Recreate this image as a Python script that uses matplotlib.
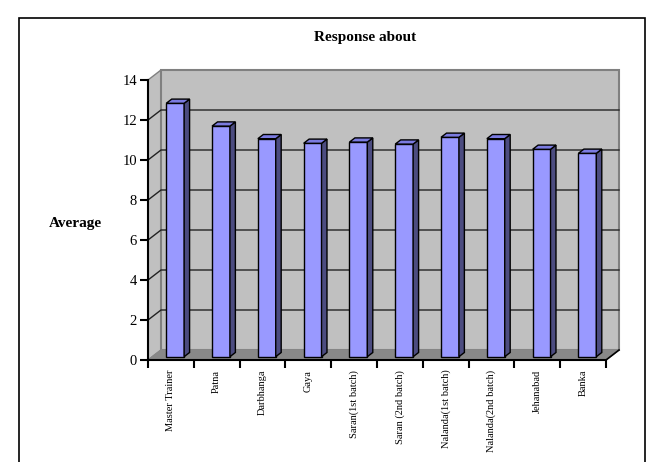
import matplotlib
matplotlib.use("Agg")
import matplotlib.pyplot as plt
from matplotlib.patches import Polygon, Rectangle

plt.rcParams['font.family'] = ['Liberation Serif', 'DejaVu Serif']

categories = ["Master Trainer", "Patna", "Darbhanga", "Gaya", "Saran(1st batch)",
              "Saran (2nd batch)", "Nalanda(1st batch)", "Nalanda(2nd batch)",
              "Jehanabad", "Banka"]
values = [12.67, 11.53, 10.9, 10.67, 10.73, 10.63, 10.97, 10.9, 10.37, 10.17]
yticks = [0, 2, 4, 6, 8, 10, 12, 14]

# fake 3d: depth offset in data units
DX, DY = 0.284, 0.5
d0, d1 = 0.33, 0.75
w = 0.39
n = len(categories)
ymax = 14

W, H = 662, 462
fig = plt.figure(figsize=(W / 100, H / 100), dpi=100)

# axes in pixel extents: front plane x 148..620, y 360..66
px_cat = 45.8
px_val = 20.0
xl, xr = -0.5, n - 0.5 + DX + 0.05
yb, yt = 0, ymax + DY + 0.2
left = 148
right = left + (xr - xl) * px_cat
bottom = 360
top = bottom - (yt - yb) * px_val
ax = fig.add_axes([left / W, 1 - bottom / H, (right - left) / W, (bottom - top) / H])
ax.set_xlim(xl, xr)
ax.set_ylim(yb, yt)
ax.patch.set_alpha(0)

wall = '#c0c0c0'
edge = '#808080'
# left wall
ax.add_patch(Polygon([(-0.5, 0), (-0.5 + DX, DY), (-0.5 + DX, ymax + DY), (-0.5, ymax)],
                     closed=True, facecolor=wall, edgecolor=edge, lw=1, zorder=0))
# back wall
ax.add_patch(Polygon([(-0.5 + DX, DY), (n - 0.5 + DX, DY), (n - 0.5 + DX, ymax + DY), (-0.5 + DX, ymax + DY)],
                     closed=True, facecolor=wall, edgecolor=edge, lw=1.5, zorder=0))
# floor
ax.add_patch(Polygon([(-0.5, 0), (n - 0.5, 0), (n - 0.5 + DX, DY), (-0.5 + DX, DY)],
                     closed=True, facecolor='#888888', edgecolor='#888888', lw=1, zorder=1))
# gridlines
for v in yticks[1:-1]:
    ax.plot([-0.5, -0.5 + DX, n - 0.5 + DX], [v, v + DY, v + DY], color='#222222', lw=1, zorder=1)
ax.plot([n - 0.5, n - 0.5 + DX], [0, DY], color='black', lw=1.2, zorder=2, clip_on=False)

# bars
xs = [i + d0 * DX for i in range(n)]
ax.bar(xs, values, width=w, bottom=d0 * DY, color='#9999ff', edgecolor='black', lw=1, zorder=3)
dd = d1 - d0
for x, v in zip(xs, values):
    x0 = x - w / 2
    y0 = d0 * DY
    ax.add_patch(Polygon([(x0 + w, y0), (x0 + w + dd * DX, y0 + dd * DY),
                          (x0 + w + dd * DX, y0 + v + dd * DY), (x0 + w, y0 + v)],
                         closed=True, facecolor='#4c4c80', edgecolor='black', lw=1, zorder=3))
    ax.add_patch(Polygon([(x0, y0 + v), (x0 + w, y0 + v), (x0 + w + dd * DX, y0 + v + dd * DY),
                          (x0 + dd * DX, y0 + v + dd * DY)],
                         closed=True, facecolor='#7b7be0', edgecolor='black', lw=1, zorder=3))

# axes lines and ticks
for s in ['top', 'right']:
    ax.spines[s].set_visible(False)
ax.spines['left'].set_bounds(0, ymax)
ax.spines['bottom'].set_bounds(-0.5, n - 0.5)
ax.spines['left'].set_linewidth(1.5)
ax.spines['bottom'].set_linewidth(1.5)
ax.spines['left'].set_zorder(5)
ax.spines['bottom'].set_zorder(5)
ax.set_yticks(yticks)
ax.set_yticklabels([str(t) for t in yticks], fontsize=10.5)
ax.tick_params(axis='y', length=6, width=1.5, pad=2)
ax.set_xticks([i - 0.5 for i in range(n + 1)])
ax.set_xticklabels([])
ax.tick_params(axis='x', which='major', length=6, width=1.5)
ax.set_xticks(range(n), minor=True)
ax.set_xticklabels(categories, minor=True, rotation=90, fontsize=7.5, va='top', ha='center')
ax.tick_params(axis='x', which='minor', length=0, pad=7)

fig.text(365 / W, 1 - 37 / H, "Response about", ha='center', va='center',
         fontsize=11, fontweight='bold')
fig.text(75 / W, 1 - 224 / H, "Average", ha='center', va='center',
         fontsize=11, fontweight='bold')

fig.add_artist(Rectangle((19 / W, -0.1), (645 - 19) / W, 1.1 - 18 / H, transform=fig.transFigure,
                         fill=False, edgecolor='black', lw=1.2))

fig.savefig('out.png', dpi=100)
